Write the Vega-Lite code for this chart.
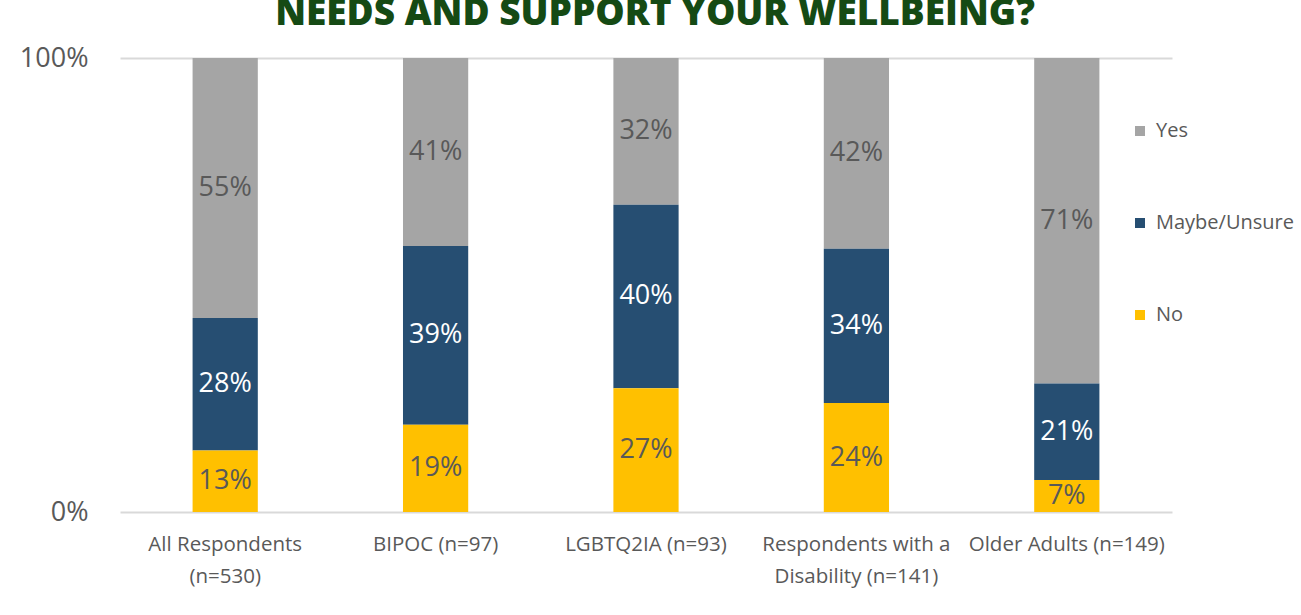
{
  "$schema": "https://vega.github.io/schema/vega-lite/v6.json",
  "width": 1052,
  "height": 454,
  "autosize": {"type": "none"},
  "padding": {"left": 120, "top": 58, "right": 129, "bottom": 103},
  "background": "white",
  "config": {"view": {"stroke": null}, "font": "Open Sans"},
  "title": {
    "text": "NEEDS AND SUPPORT YOUR WELLBEING?",
    "font": "Open Sans",
    "fontSize": 37,
    "fontWeight": 800,
    "color": "#154A14",
    "anchor": "middle",
    "baseline": "alphabetic",
    "offset": 0,
    "dx": 9,
    "dy": 18
  },
  "data": {
    "values": [
      {"group": "All Respondents (n=530)", "response": "Yes", "value": 55, "label": "55%", "k": 3},
      {"group": "All Respondents (n=530)", "response": "Maybe/Unsure", "value": 28, "label": "28%", "k": 2},
      {"group": "All Respondents (n=530)", "response": "No", "value": 13, "label": "13%", "k": 1},
      {"group": "BIPOC (n=97)", "response": "Yes", "value": 41, "label": "41%", "k": 3},
      {"group": "BIPOC (n=97)", "response": "Maybe/Unsure", "value": 39, "label": "39%", "k": 2},
      {"group": "BIPOC (n=97)", "response": "No", "value": 19, "label": "19%", "k": 1},
      {"group": "LGBTQ2IA (n=93)", "response": "Yes", "value": 32, "label": "32%", "k": 3},
      {"group": "LGBTQ2IA (n=93)", "response": "Maybe/Unsure", "value": 40, "label": "40%", "k": 2},
      {"group": "LGBTQ2IA (n=93)", "response": "No", "value": 27, "label": "27%", "k": 1},
      {"group": "Respondents with a Disability (n=141)", "response": "Yes", "value": 42, "label": "42%", "k": 3},
      {"group": "Respondents with a Disability (n=141)", "response": "Maybe/Unsure", "value": 34, "label": "34%", "k": 2},
      {"group": "Respondents with a Disability (n=141)", "response": "No", "value": 24, "label": "24%", "k": 1},
      {"group": "Older Adults (n=149)", "response": "Yes", "value": 71, "label": "71%", "k": 3},
      {"group": "Older Adults (n=149)", "response": "Maybe/Unsure", "value": 21, "label": "21%", "k": 2},
      {"group": "Older Adults (n=149)", "response": "No", "value": 7, "label": "7%", "k": 1}
    ]
  },
  "encoding": {
    "x": {
      "field": "group",
      "type": "nominal",
      "sort": null,
      "scale": {"paddingInner": 0.69, "paddingOuter": 0.345},
      "axis": {
        "title": null,
        "labelAngle": 0,
        "domain": false,
        "ticks": false,
        "labelFontSize": 20.5,
        "labelColor": "#595959",
        "labelPadding": 32,
        "labelLineHeight": 32,
        "labelBaseline": "middle",
        "labelLimit": 400,
        "labelExpr": "datum.label == 'All Respondents (n=530)' ? ['All Respondents', '(n=530)'] : datum.label == 'Respondents with a Disability (n=141)' ? ['Respondents with a', 'Disability (n=141)'] : datum.label"
      }
    },
    "y": {
      "field": "value",
      "type": "quantitative",
      "stack": "normalize",
      "scale": {"domain": [0, 1], "nice": false},
      "axis": {
        "title": null,
        "values": [0, 1],
        "format": ".0%",
        "domain": false,
        "ticks": false,
        "grid": true,
        "gridColor": "#D9D9D9",
        "gridWidth": 2,
        "labelFontSize": 27,
        "labelColor": "#595959",
        "labelPadding": 32
      }
    },
    "order": {"field": "k", "type": "quantitative"}
  },
  "layer": [
    {
      "mark": {"type": "bar"},
      "encoding": {
        "color": {
          "field": "response",
          "type": "nominal",
          "scale": {
            "domain": ["Yes", "Maybe/Unsure", "No"],
            "range": ["#A5A5A5", "#264E72", "#FFC000"]
          },
          "legend": {
            "title": null,
            "orient": "none",
            "legendX": 1010,
            "legendY": 63,
            "symbolType": "square",
            "symbolSize": 100,
            "symbolStrokeWidth": 0,
            "labelFontSize": 20,
            "labelColor": "#595959",
            "rowPadding": 72,
            "labelOffset": 6
          }
        }
      }
    },
    {
      "mark": {"type": "text", "fontSize": 27, "baseline": "middle"},
      "encoding": {
        "y": {
          "field": "value",
          "type": "quantitative",
          "stack": "normalize",
          "bandPosition": 0.5
        },
        "text": {"field": "label", "type": "nominal"},
        "color": {
          "condition": {"test": "datum.response === 'Maybe/Unsure'", "value": "white"},
          "value": "#595959"
        }
      }
    }
  ]
}
